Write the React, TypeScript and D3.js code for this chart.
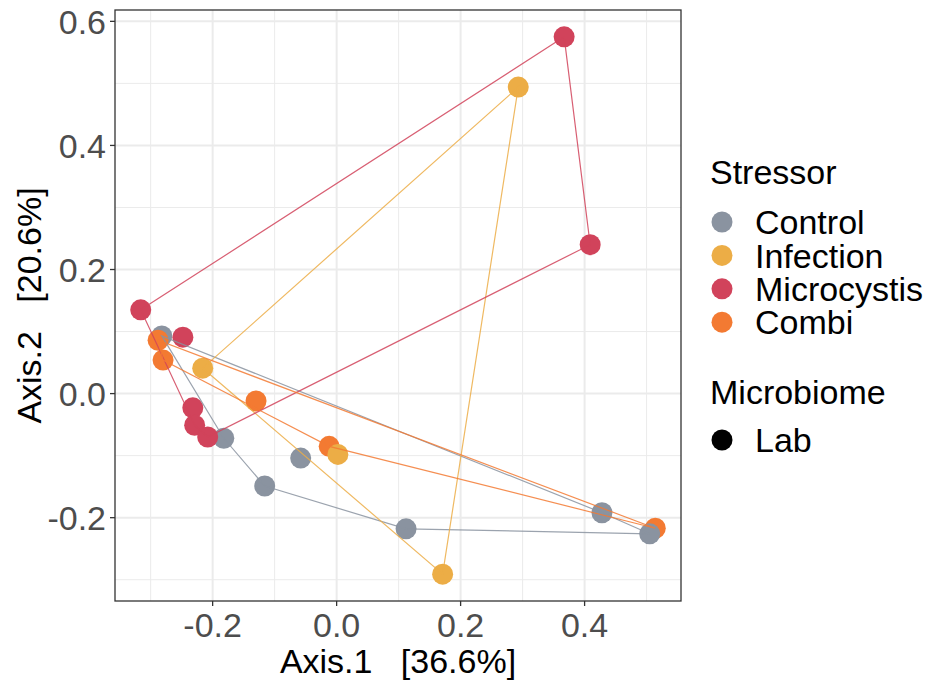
import * as d3 from 'd3'

// PCoA scores, one entry per sample, in plotting order
const stressors = ['Control', 'Infection', 'Microcystis', 'Combi']
const stressorColors = ['#8a93a0', '#ecad46', '#d1435b', '#f37a32']
const microbiomes = ['Lab']

const sampleStressor = [
    'Control', 'Combi', 'Combi', 'Microcystis', 'Microcystis', 'Infection',
    'Control', 'Microcystis', 'Microcystis', 'Microcystis', 'Control', 'Control',
    'Combi', 'Combi', 'Infection', 'Control', 'Infection', 'Infection',
    'Microcystis', 'Microcystis', 'Control', 'Combi', 'Control'
]
const axis1 = [
    -0.282, -0.288, -0.28, -0.316, -0.248, -0.216,
    -0.182, -0.232, -0.229, -0.208, -0.116, -0.058,
    -0.13, -0.012, 0.002, 0.112, 0.171, 0.293,
    0.367, 0.409, 0.428, 0.514, 0.505
]
const axis2 = [
    0.093, 0.086, 0.054, 0.135, 0.091, 0.041,
    -0.072, -0.023, -0.051, -0.07, -0.149, -0.104,
    -0.012, -0.085, -0.098, -0.218, -0.291, 0.494,
    0.575, 0.24, -0.192, -0.217, -0.226
]

const xTicks = [-0.2, 0, 0.2, 0.4]
const yTicks = [-0.2, 0, 0.2, 0.4, 0.6]
const xMinor = [-0.3, -0.1, 0.1, 0.3, 0.5]
const yMinor = [-0.3, -0.1, 0.1, 0.3, 0.5]

const xTitle = 'Axis.1   [36.6%]'
const yTitle = 'Axis.2   [20.6%]'

const panel = { left: 115, right: 681, top: 10, bottom: 601 }
const font = '"Liberation Sans", Arial, sans-serif'
const fontSize = 34

// ggplot-style 5% expansion
const expand = (vals: number[]): [number, number] => {
    const [lo, hi] = d3.extent(vals) as [number, number]
    const pad = (hi - lo) * 0.05
    return [lo - pad, hi + pad]
}

// R prints a plain hyphen for negatives
const fmt = (v: number) => d3.format('.1f')(v).replace('\u2212', '-')

export default function App() {
    const xScale = d3.scaleLinear().domain(expand(axis1)).range([panel.left, panel.right])
    const yScale = d3.scaleLinear().domain(expand(axis2)).range([panel.bottom, panel.top])
    const color = d3.scaleOrdinal<string, string>().domain(stressors).range(stressorColors)

    const points = sampleStressor.map((s, i) => ({
        s,
        x: xScale(axis1[i]),
        y: yScale(axis2[i])
    }))

    const hulls = stressors.map((s) => {
        const pts = points.filter((p) => p.s === s).map((p) => [p.x, p.y] as [number, number])
        return { s, hull: d3.polygonHull(pts) }
    })

    const legendX = 722
    const legendRow = (i: number) => 222 + i * 33.4

    return (
        <svg
            width={933}
            height={685}
            style={{ position: 'absolute', left: 0, top: 0, background: '#fff' }}
            fontFamily={font}
        >
            <rect x={0} y={0} width={933} height={685} fill="#fff" />
            {/* grid */}
            <g>
                {xMinor.map((v) => (
                    <line key={'xm' + v} x1={xScale(v)} x2={xScale(v)} y1={panel.top} y2={panel.bottom} stroke="#ebebeb" strokeWidth={1} />
                ))}
                {yMinor.map((v) => (
                    <line key={'ym' + v} y1={yScale(v)} y2={yScale(v)} x1={panel.left} x2={panel.right} stroke="#ebebeb" strokeWidth={1} />
                ))}
                {xTicks.map((v) => (
                    <line key={'xg' + v} x1={xScale(v)} x2={xScale(v)} y1={panel.top} y2={panel.bottom} stroke="#ebebeb" strokeWidth={2} />
                ))}
                {yTicks.map((v) => (
                    <line key={'yg' + v} y1={yScale(v)} y2={yScale(v)} x1={panel.left} x2={panel.right} stroke="#ebebeb" strokeWidth={2} />
                ))}
            </g>

            {/* points */}
            <g>
                {points.map((p, i) => (
                    <circle key={i} cx={p.x} cy={p.y} r={10.5} fill={color(p.s)} />
                ))}
            </g>

            {/* convex hulls */}
            <g fill="none">
                {hulls.map(({ s, hull }) =>
                    hull ? (
                        <path
                            key={s}
                            d={'M' + hull.map((q) => q.join(',')).join('L') + 'Z'}
                            stroke={color(s)}
                            strokeWidth={1.2}
                            strokeOpacity={0.85}
                        />
                    ) : null
                )}
            </g>

            {/* panel border */}
            <rect
                x={panel.left}
                y={panel.top}
                width={panel.right - panel.left}
                height={panel.bottom - panel.top}
                fill="none"
                stroke="#333"
                strokeWidth={1.3}
            />

            {/* axes */}
            <g fontSize={fontSize} fill="#4d4d4d">
                {xTicks.map((v) => (
                    <g key={'xt' + v}>
                        <line x1={xScale(v)} x2={xScale(v)} y1={panel.bottom} y2={panel.bottom + 5} stroke="#333" strokeWidth={1.3} />
                        <text x={xScale(v)} y={panel.bottom + 36} textAnchor="middle">
                            {fmt(v)}
                        </text>
                    </g>
                ))}
                {yTicks.map((v) => (
                    <g key={'yt' + v}>
                        <line x1={panel.left - 5} x2={panel.left} y1={yScale(v)} y2={yScale(v)} stroke="#333" strokeWidth={1.3} />
                        <text x={panel.left - 9} y={yScale(v)} dy="0.36em" textAnchor="end">
                            {fmt(v)}
                        </text>
                    </g>
                ))}
            </g>
            <text
                x={(panel.left + panel.right) / 2}
                y={673}
                textAnchor="middle"
                fontSize={fontSize}
                fill="#000"
                style={{ whiteSpace: 'pre' }}
            >
                {xTitle}
            </text>
            <text
                transform={`translate(41,${(panel.top + panel.bottom) / 2}) rotate(-90)`}
                textAnchor="middle"
                fontSize={fontSize}
                fill="#000"
                style={{ whiteSpace: 'pre' }}
            >
                {yTitle}
            </text>

            {/* legend */}
            <g fontSize={fontSize} fill="#000">
                <text x={710} y={184}>Stressor</text>
                {stressors.map((s, i) => (
                    <g key={s}>
                        <circle cx={legendX} cy={legendRow(i)} r={10.5} fill={color(s)} />
                        <text x={755} y={legendRow(i)} dy="0.36em">
                            {s}
                        </text>
                    </g>
                ))}
                <text x={710} y={404}>Microbiome</text>
                {microbiomes.map((m, i) => (
                    <g key={m}>
                        <circle cx={legendX} cy={440 + i * 33} r={10.5} fill="#000" />
                        <text x={755} y={440 + i * 33} dy="0.36em">
                            {m}
                        </text>
                    </g>
                ))}
            </g>
        </svg>
    )
}
